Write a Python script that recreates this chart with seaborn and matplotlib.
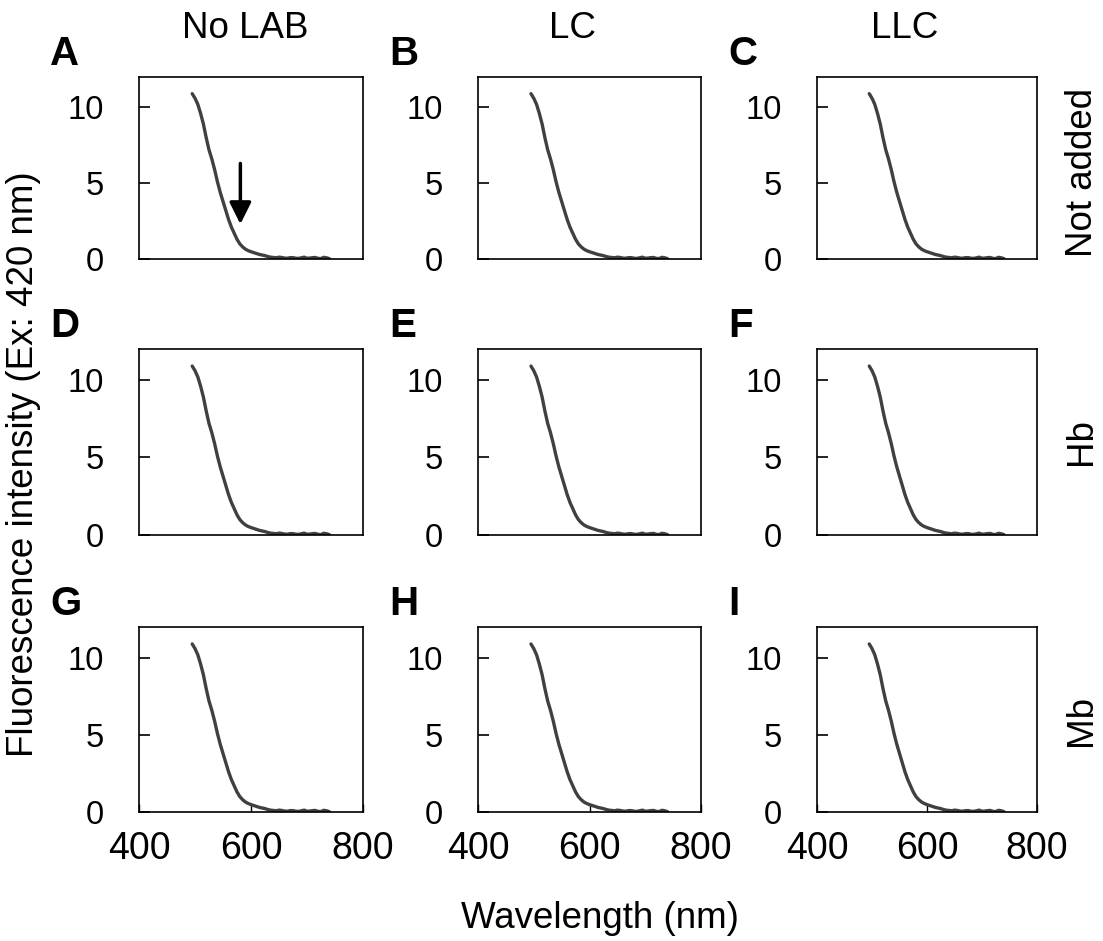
import numpy as np
import pandas as pd
import matplotlib
matplotlib.use("Agg")
import matplotlib.pyplot as plt
import seaborn as sns

# ---- data ----
wavelength = [495, 500, 505, 510, 515, 520, 525, 530, 535, 540, 545, 550, 555, 560,
              565, 570, 575, 580, 585, 590, 595, 600, 605, 610, 615, 620, 625, 630,
              635, 640, 645, 650, 655, 660, 665, 670, 675, 680, 685, 690, 695, 700,
              705, 710, 715, 720, 725, 730, 735, 740]
intensity = [10.9, 10.6, 10.2, 9.6, 8.9, 8.0, 7.2, 6.6, 5.9, 5.1, 4.4, 3.8, 3.2, 2.6,
             2.1, 1.7, 1.3, 1.0, 0.8, 0.65, 0.55, 0.48, 0.42, 0.36, 0.30, 0.26, 0.22, 0.16,
             0.12, 0.10, 0.08, 0.12, 0.10, 0.06, 0.05, 0.09, 0.09, 0.05, 0.04, 0.08, 0.12, 0.05,
             0.06, 0.09, 0.10, 0.04, 0.03, 0.11, 0.08, 0.02]
col_titles = ["No LAB", "LC", "LLC"]
row_titles = ["Not added", "Hb", "Mb"]
panel_letters = ["A", "B", "C", "D", "E", "F", "G", "H", "I"]
x_ticks = [400, 600, 800]
y_ticks = [0, 5, 10]
arrow_x = 581
arrow_y_from = 6.3
arrow_y_to = 2.3

df = pd.DataFrame({"wavelength": wavelength, "intensity": intensity})

sns.set_theme(style="white")
plt.rcParams["font.family"] = ["Liberation Sans", "DejaVu Sans"]
plt.rcParams["text.color"] = "black"
plt.rcParams["xtick.color"] = "black"
plt.rcParams["ytick.color"] = "black"

W, H = 1103, 941
fig = plt.figure(figsize=(W / 100, H / 100), dpi=100)

col_left = [139, 478, 817]
col_w = [224, 223, 220]
row_top = [77, 349, 627]
row_h = [182, 186, 185]

FS = 26.5
line_color = "#404040"

for r in range(3):
    for c in range(3):
        l = col_left[c]
        t = row_top[r]
        ax_w = col_w[c]
        ax_h = row_h[r]
        ax = fig.add_axes([l / W, (H - t - ax_h) / H, ax_w / W, ax_h / H])
        sns.lineplot(data=df, x="wavelength", y="intensity", ax=ax,
                     color=line_color, linewidth=2.4)
        ax.set_xlim(400, 800)
        ax.set_ylim(0, 12)
        ax.set_yticks(y_ticks)
        ax.set_yticklabels([str(v) for v in y_ticks])
        ax.set_xticks(x_ticks)
        ax.set_xlabel("")
        ax.set_ylabel("")
        for s in ax.spines.values():
            s.set_visible(True)
            s.set_color("black")
            s.set_linewidth(1.2)
        ax.tick_params(axis="y", direction="in", length=8, width=1.2,
                       labelsize=23.5, pad=25, colors="black", left=True)
        if r == 2:
            ax.set_xticklabels([str(v) for v in x_ticks])
            ax.tick_params(axis="x", direction="in", length=6, width=1.0,
                           labelsize=27, pad=14, colors="black", bottom=True)
        else:
            ax.tick_params(axis="x", bottom=False, labelbottom=False)
        ax.grid(False)
        ax.set_facecolor("white")
        # panel letter
        fig.text((l - 89) / W, 1 - (t - 12) / H, panel_letters[r * 3 + c],
                 fontsize=29, fontweight="bold", ha="left", va="baseline")
        if r == 0 and c == 0:
            ax.annotate("", xy=(arrow_x, arrow_y_to), xytext=(arrow_x, arrow_y_from),
                        arrowprops=dict(arrowstyle="-|>,head_length=1.1,head_width=0.55",
                                        color="black", lw=2.5, shrinkA=0, shrinkB=0))

# column titles
col_centers = [245, 572, 905]
for c in range(3):
    fig.text(col_centers[c] / W, 1 - 38 / H, col_titles[c], fontsize=FS,
             ha="center", va="baseline")

# row titles
row_centers = [172, 442, 720]
for r in range(3):
    fig.text(1082 / W, 1 - row_centers[r] / H, row_titles[r], fontsize=FS,
             rotation=90, ha="center", va="center")

fig.text(24 / W, 1 - 464 / H, "Fluorescence intensity (Ex: 420 nm)", fontsize=FS,
         rotation=90, ha="center", va="center")
fig.text(600 / W, 1 - 928 / H, "Wavelength (nm)", fontsize=FS,
         ha="center", va="baseline")

fig.savefig("out.png", dpi=100, facecolor="white")
